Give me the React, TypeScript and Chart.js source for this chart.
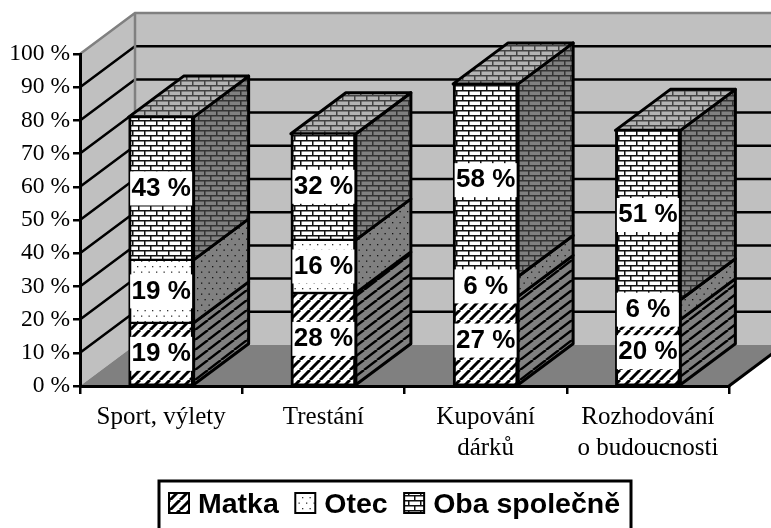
import React, { useEffect, useRef } from "react";
import { Chart, registerables } from "chart.js";

Chart.register(...registerables);

const categories: (string | string[])[] = ["Sport, výlety", "Trestání", ["Kupování", "dárků"], ["Rozhodování", "o budoucnosti"]];
const matka = [19, 28, 27, 20];
const otec = [19, 16, 6, 6];
const obaSpolecne = [43, 32, 58, 51];
const seriesNames = ["Matka", "Otec", "Oba společně"];
const yTicksStep = 10;
const yMax = 100;

const DEPTH_X = 55;
const DEPTH_Y = 41;
const SERIF = '"Liberation Serif", serif';
const SANS = '"Liberation Sans", sans-serif';

function tile(w: number, h: number, draw: (c: CanvasRenderingContext2D) => void): CanvasPattern {
  const cv = document.createElement("canvas");
  cv.width = w;
  cv.height = h;
  const c = cv.getContext("2d")!;
  draw(c);
  return c.createPattern(cv, "repeat")!;
}

function hatch(bg: string, fg: string, w: number, h: number, lw: number) {
  return tile(w, h, (c) => {
    c.fillStyle = bg;
    c.fillRect(0, 0, w, h);
    c.strokeStyle = fg;
    c.lineWidth = lw;
    for (const [ox, oy] of [[-w, 0], [0, 0], [w, 0]]) {
      c.beginPath();
      c.moveTo(ox, oy + h);
      c.lineTo(ox + w, oy);
      c.stroke();
    }
  });
}

function dots(bg: string, fg: string) {
  return tile(15, 11, (c) => {
    c.fillStyle = bg;
    c.fillRect(0, 0, 15, 11);
    c.fillStyle = fg;
    for (const [x, y] of [[2, 2], [9.5, 2], [6, 7.5], [13.5, 7.5]]) c.fillRect(x, y, 1.3, 1.3);
  });
}

function bricks(bg: string, fg: string) {
  return tile(12, 10, (c) => {
    c.fillStyle = bg;
    c.fillRect(0, 0, 12, 10);
    c.fillStyle = fg;
    c.fillRect(0, 0, 12, 1.5);
    c.fillRect(0, 5, 12, 1.5);
    c.fillRect(0, 0, 1.5, 5);
    c.fillRect(6, 5, 1.5, 5);
  });
}

export default function App() {
  const ref = useRef<HTMLCanvasElement>(null);
  useEffect(() => {
    const front = [hatch("#ffffff", "#000000", 10, 10, 3), dots("#ffffff", "#333333"), bricks("#ffffff", "#111111")];
    const side = [hatch("#808080", "#000000", 13, 10, 2.4), dots("#808080", "#111111"), bricks("#808080", "#333333")];
    const topFace = bricks("#b4b4b4", "#444444");

    const scene = {
      id: "scene",
      beforeDraw(chart: any) {
        const { ctx, chartArea: a, scales } = chart;
        const y = scales.y;
        const base = y.getPixelForValue(0);
        const top = y.getPixelForValue(yMax);
        const right = a.right;
        ctx.save();
        ctx.fillStyle = "#ffffff";
        ctx.fillRect(0, 0, chart.width, chart.height);
        ctx.fillStyle = "#c0c0c0";
        ctx.fillRect(a.left + DEPTH_X, top - DEPTH_Y, right + DEPTH_X - a.left, base - top);
        ctx.beginPath();
        ctx.moveTo(a.left, base);
        ctx.lineTo(a.left + DEPTH_X, base - DEPTH_Y);
        ctx.lineTo(a.left + DEPTH_X, top - DEPTH_Y);
        ctx.lineTo(a.left, top);
        ctx.closePath();
        ctx.fill();
        ctx.fillStyle = "#808080";
        ctx.beginPath();
        ctx.moveTo(a.left, base);
        ctx.lineTo(a.left + DEPTH_X, base - DEPTH_Y);
        ctx.lineTo(right + DEPTH_X, base - DEPTH_Y);
        ctx.lineTo(right, base);
        ctx.closePath();
        ctx.fill();
        ctx.strokeStyle = "#000000";
        ctx.lineWidth = 2.5;
        for (let v = yTicksStep; v < yMax; v += yTicksStep) {
          const p = y.getPixelForValue(v);
          ctx.beginPath();
          ctx.moveTo(a.left, p);
          ctx.lineTo(a.left + DEPTH_X, p - DEPTH_Y);
          ctx.lineTo(right + DEPTH_X, p - DEPTH_Y);
          ctx.stroke();
        }
        ctx.strokeStyle = "#808080";
        ctx.lineWidth = 2.5;
        ctx.beginPath();
        ctx.moveTo(a.left, top);
        ctx.lineTo(a.left + DEPTH_X, top - DEPTH_Y);
        ctx.lineTo(right + DEPTH_X, top - DEPTH_Y);
        ctx.moveTo(a.left + DEPTH_X, top - DEPTH_Y);
        ctx.lineTo(a.left + DEPTH_X, base - DEPTH_Y);
        ctx.stroke();
        ctx.strokeStyle = "#000000";
        ctx.lineWidth = 3;
        ctx.beginPath();
        ctx.moveTo(right, base);
        ctx.lineTo(right + DEPTH_X, base - DEPTH_Y);
        ctx.stroke();
        ctx.restore();
      },
      beforeDatasetsDraw(chart: any) {
        const { ctx } = chart;
        const n = chart.data.datasets.length;
        ctx.save();
        ctx.strokeStyle = "#000000";
        ctx.lineWidth = 3;
        ctx.lineJoin = "round";
        for (let d = 0; d < n; d++) {
          chart.getDatasetMeta(d).data.forEach((bar: any) => {
            const r = bar.x + bar.width / 2;
            const l = bar.x - bar.width / 2;
            ctx.beginPath();
            ctx.moveTo(r, bar.y);
            ctx.lineTo(r + DEPTH_X, bar.y - DEPTH_Y);
            ctx.lineTo(r + DEPTH_X, bar.base - DEPTH_Y);
            ctx.lineTo(r, bar.base);
            ctx.closePath();
            ctx.fillStyle = side[d];
            ctx.fill();
            ctx.stroke();
            if (d === n - 1) {
              ctx.beginPath();
              ctx.moveTo(l, bar.y);
              ctx.lineTo(l + DEPTH_X, bar.y - DEPTH_Y);
              ctx.lineTo(r + DEPTH_X, bar.y - DEPTH_Y);
              ctx.lineTo(r, bar.y);
              ctx.closePath();
              ctx.fillStyle = topFace;
              ctx.fill();
              ctx.stroke();
            }
          });
        }
        ctx.restore();
      },
      afterDatasetsDraw(chart: any) {
        const { ctx } = chart;
        ctx.save();
        ctx.font = `bold 26px ${SANS}`;
        ctx.textAlign = "center";
        ctx.textBaseline = "middle";
        chart.data.datasets.forEach((ds: any, d: number) => {
          chart.getDatasetMeta(d).data.forEach((bar: any, i: number) => {
            const cy = (bar.y + bar.base) / 2;
            ctx.fillStyle = "#ffffff";
            ctx.fillRect(bar.x - 31, cy - 17, 62, 34);
            ctx.fillStyle = "#000000";
            ctx.fillText(`${ds.data[i]} %`, bar.x, cy);
          });
        });
        ctx.restore();
      },
      afterDraw(chart: any) {
        const { ctx } = chart;
        ctx.save();
        ctx.fillStyle = "#ffffff";
        ctx.strokeStyle = "#000000";
        ctx.lineWidth = 3;
        ctx.fillRect(159, 481, 472, 50);
        ctx.strokeRect(159, 481, 472, 50);
        ctx.font = `bold 28.5px ${SANS}`;
        ctx.textBaseline = "middle";
        ctx.textAlign = "left";
        let x = 169;
        chart.data.datasets.forEach((ds: any) => {
          ctx.fillStyle = ds.backgroundColor;
          ctx.lineWidth = 2;
          ctx.fillRect(x, 493, 20, 20);
          ctx.strokeRect(x, 493, 20, 20);
          ctx.fillStyle = "#000000";
          ctx.fillText(ds.label, x + 29, 505);
          x += 29 + ctx.measureText(ds.label).width + 16.5;
        });
        ctx.restore();
      },
    };

    const chart = new Chart(ref.current!, {
      type: "bar",
      data: {
        labels: categories as any,
        datasets: [matka, otec, obaSpolecne].map((data, i) => ({
          label: seriesNames[i],
          data,
          backgroundColor: front[i] as any,
          borderColor: "#000000",
          borderWidth: { top: 1.5, bottom: 1.5, left: 3, right: 3 },
          barThickness: 65,
          borderSkipped: false,
        })),
      },
      options: {
        responsive: false,
        animation: false,
        layout: { padding: { top: 54, right: 42, left: 0, bottom: 0 } },
        plugins: { legend: { display: false }, tooltip: { enabled: false }, title: { display: false } },
        scales: {
          x: {
            stacked: true,
            afterFit: (s: any) => { s.height = 142; },
            grid: { drawOnChartArea: false, color: "#000000", lineWidth: 2.5, tickLength: 8 },
            border: { color: "#000000", width: 3 },
            ticks: {
              color: "#000000",
              maxRotation: 0,
              autoSkip: false,
              padding: 8,
              font: { family: SERIF, size: 25, lineHeight: 1.25 },
            },
          },
          y: {
            stacked: true,
            min: 0,
            max: yMax,
            afterFit: (s: any) => { s.width = 80; },
            grid: { drawOnChartArea: false, color: "#000000", lineWidth: 2.5, tickLength: 7 },
            border: { color: "#000000", width: 3 },
            ticks: {
              color: "#000000",
              stepSize: yTicksStep,
              padding: 3,
              font: { family: SERIF, size: 23.5 },
              callback: (v: any) => `${v} %`,
            },
          },
        },
      },
      plugins: [scene],
    } as any);
    return () => chart.destroy();
  }, []);
  return (
    <div style={{ position: "absolute", left: 0, top: 0, width: 771, height: 528 }}>
      <canvas ref={ref} width={771} height={528} style={{ display: "block" }} />
    </div>
  );
}
